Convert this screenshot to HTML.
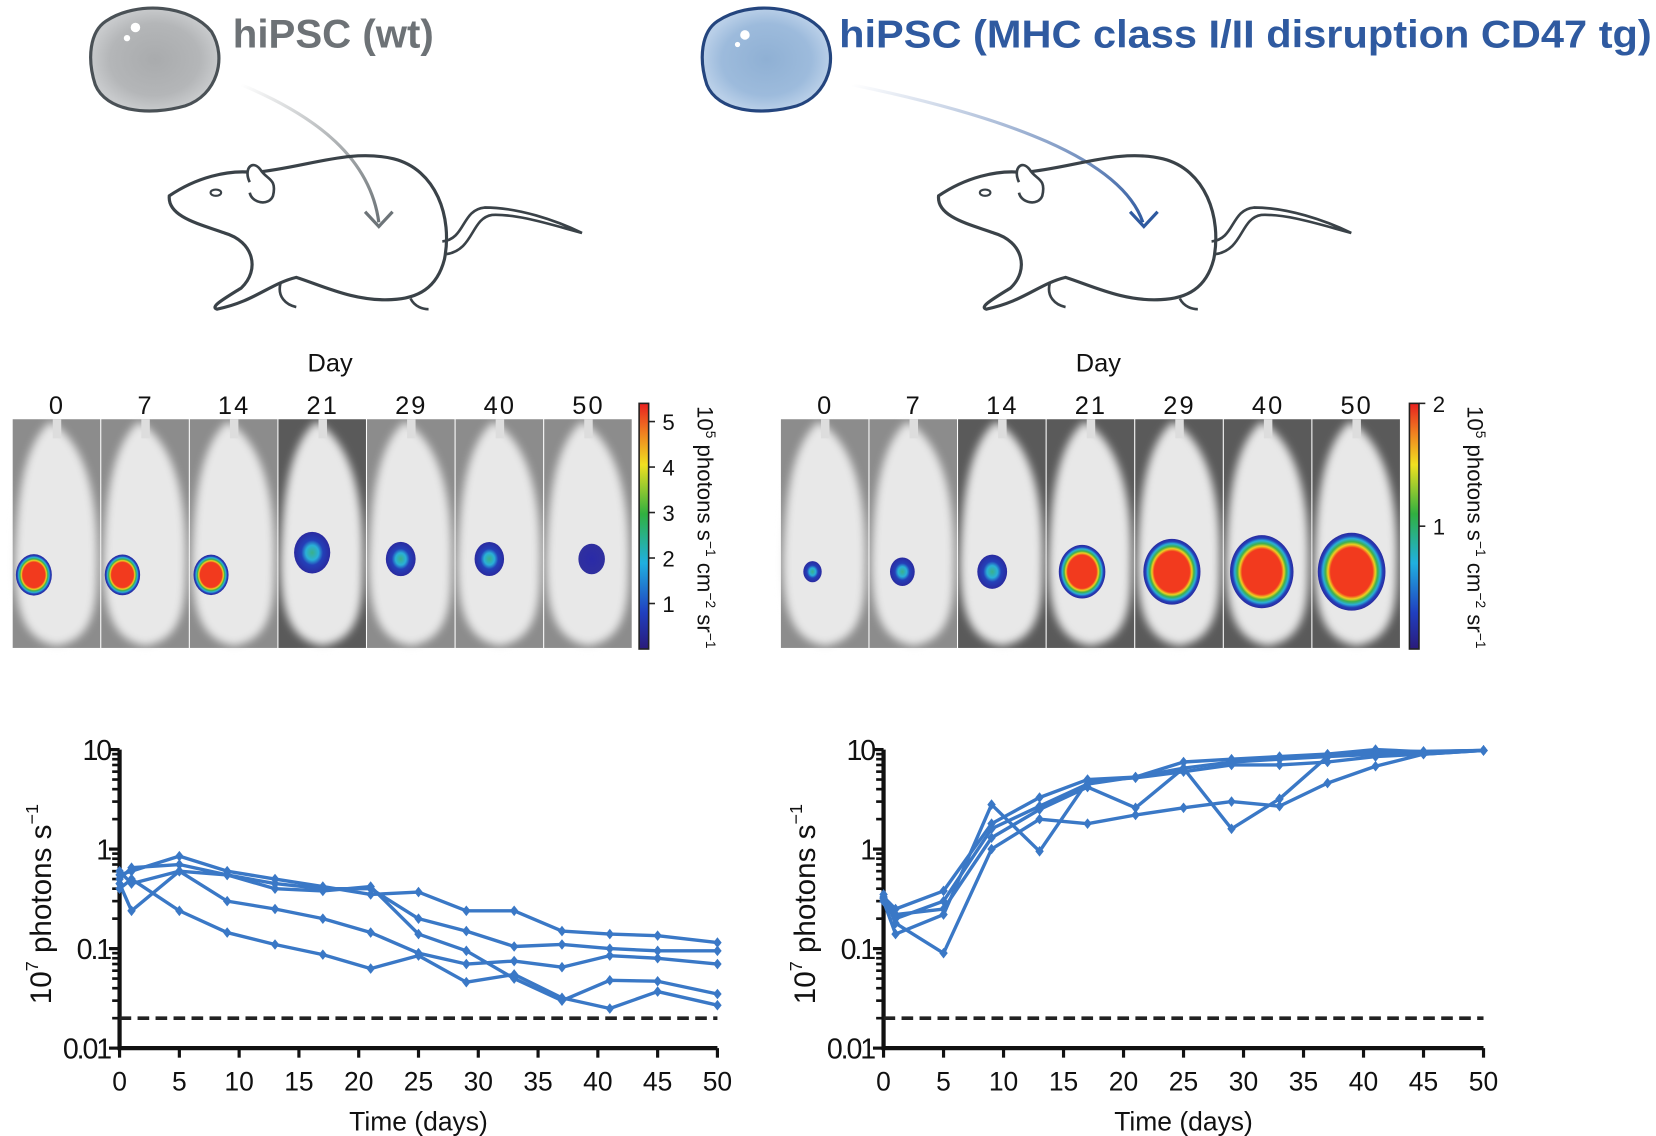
<!DOCTYPE html>
<html><head><meta charset="utf-8">
<style>
html,body{margin:0;padding:0;background:#fff;}
svg{display:block;}
text{font-family:"Liberation Sans",sans-serif;}
</style></head>
<body>
<svg id="fig" width="1656" height="1136" viewBox="0 0 1565 1073" preserveAspectRatio="none" xmlns="http://www.w3.org/2000/svg">
<defs>
<radialGradient id="cellGray" cx="0.5" cy="0.5" r="0.5"><stop offset="0" stop-color="#a9abad"/><stop offset="0.7" stop-color="#b4b6b8"/><stop offset="1" stop-color="#c8cacc"/></radialGradient>
<radialGradient id="cellBlue" cx="0.5" cy="0.5" r="0.5"><stop offset="0" stop-color="#8fb0d4"/><stop offset="0.7" stop-color="#9dbbdc"/><stop offset="1" stop-color="#b9cfe8"/></radialGradient>
<linearGradient id="arrGray" x1="0" y1="0" x2="1" y2="1"><stop offset="0" stop-color="#fff"/><stop offset="1" stop-color="#6d7478"/></linearGradient>
<linearGradient id="arrBlue" x1="0" y1="0" x2="1" y2="1"><stop offset="0" stop-color="#fff"/><stop offset="1" stop-color="#2f5aa0"/></linearGradient>
<radialGradient id="blob" cx="0.5" cy="0.5" r="0.5"><stop offset="0" stop-color="#f23a1e"/><stop offset="0.62" stop-color="#f23a1e"/><stop offset="0.7" stop-color="#f0d020"/><stop offset="0.77" stop-color="#3fb04a"/><stop offset="0.85" stop-color="#2ab0d8"/><stop offset="0.92" stop-color="#2440b8"/><stop offset="1" stop-color="#2a2aa0"/></radialGradient>
<radialGradient id="blobBlue" cx="0.5" cy="0.5" r="0.5"><stop offset="0" stop-color="#3ab08a"/><stop offset="0.35" stop-color="#2ab0d8"/><stop offset="0.6" stop-color="#2440b8"/><stop offset="1" stop-color="#2a2aa0"/></radialGradient>
<radialGradient id="blobNavy" cx="0.5" cy="0.5" r="0.5"><stop offset="0" stop-color="#2a2aa8"/><stop offset="1" stop-color="#30309e"/></radialGradient>
<linearGradient id="cbar" x1="0" y1="1" x2="0" y2="0"><stop offset="0" stop-color="#2a1a7a"/><stop offset="0.15" stop-color="#2040c0"/><stop offset="0.35" stop-color="#20b0e0"/><stop offset="0.55" stop-color="#30b040"/><stop offset="0.75" stop-color="#f0e020"/><stop offset="0.88" stop-color="#f08020"/><stop offset="1" stop-color="#e82020"/></linearGradient>
<filter id="soft"><feGaussianBlur stdDeviation="4"/></filter>
</defs>

<g>
<path d="M100,20 C130,0 180,5 200,30 C215,55 205,90 175,100 C140,110 100,105 90,80 C82,55 85,30 100,20 Z" fill="url(#cellGray)" stroke="#4a5156" stroke-width="3"/>
<circle cx="128" cy="26" r="4.5" fill="#fff"/><circle cx="120" cy="36" r="3" fill="#fff"/>
</g>
<text x="220" y="45" font-size="38" font-weight="bold" fill="#6d7276">hiPSC (wt)</text>
<g>
<path d="M228,80 C300,110 350,150 358,210" fill="none" stroke="url(#arrGray)" stroke-width="3"/>
<path d="M345,200 L358,214 L371,200" fill="none" stroke="#6d7478" stroke-width="3"/>
</g>

<g>
<path d="M678,20 C708,0 758,5 778,30 C793,55 783,90 753,100 C718,110 678,105 668,80 C660,55 663,30 678,20 Z" fill="url(#cellBlue)" stroke="#24457e" stroke-width="3"/>
<circle cx="704" cy="33" r="4.5" fill="#fff"/><circle cx="697" cy="42" r="2.5" fill="#fff"/>
</g>
<text x="793" y="45" font-size="37" font-weight="bold" fill="#2f5aa0" textLength="768" lengthAdjust="spacingAndGlyphs">hiPSC (MHC class I/II disruption CD47 tg)</text>
<g>
<path d="M805,80 C950,110 1060,150 1080,210" fill="none" stroke="url(#arrBlue)" stroke-width="3"/>
<path d="M1068,200 L1081,214 L1094,200" fill="none" stroke="#2f5aa0" stroke-width="3"/>
</g>

<g id="mice"></g>
<g id="panels"></g>

<g id="chartL"></g>
<g id="chartR"></g>
</svg>
<script>
const NS='http://www.w3.org/2000/svg';
const svg=document.getElementById('fig');
function mk(tag,attrs,parent){const e=document.createElementNS(NS,tag);for(const k in attrs)e.setAttribute(k,attrs[k]);(parent||svg).appendChild(e);return e;}

const days=[0,1,5,9,13,17,21,25,29,33,37,41,45,50];
const xTicks=[0,5,10,15,20,25,30,35,40,45,50];
const yTickLabels=['0.01','0.1','1','10'];
const yTickValues=[0.01,0.1,1,10];
const detectionLimit=0.02;
const wtA=[0.55,0.6,0.85,0.6,0.5,0.42,0.35,0.37,0.24,0.24,0.15,0.14,0.135,0.115];
const wtB=[0.5,0.65,0.7,0.55,0.45,0.4,0.4,0.2,0.15,0.105,0.11,0.1,0.095,0.095];
const wtC=[0.45,0.24,0.6,0.55,0.4,0.38,0.42,0.14,0.095,0.05,0.03,0.048,0.047,0.035];
const wtD=[0.6,0.45,0.6,0.3,0.25,0.2,0.145,0.09,0.07,0.075,0.065,0.085,0.08,0.07];
const wtE=[0.4,0.5,0.24,0.145,0.11,0.087,0.063,0.085,0.046,0.055,0.032,0.025,0.037,0.027];
const edA=[0.33,0.25,0.38,1.8,3.3,5,5.3,7.5,8,8.5,9,10,9.5,9.8];
const edB=[0.3,0.2,0.3,1.6,2.7,4.5,5.3,6.5,7.5,8,8.5,9.5,9.6,9.8];
const edC=[0.32,0.22,0.25,1.3,2.5,4.2,2.6,6.5,1.6,3.2,8.5,9,9.5,9.8];
const edD=[0.3,0.14,0.22,2.8,0.95,4.8,5.2,6,7,7,7.5,8.5,9,9.8];
const edE=[0.35,0.18,0.09,1,2,1.8,2.2,2.6,3,2.7,4.6,6.8,9,9.8];
const imageDays=['0','7','14','21','29','40','50'];
const wtSignal=[5,4.6,4.4,2.5,2.0,1.8,0.9];
const edSignal=[0.6,0.9,1.2,2,2,2,2];
const edSizes=[11,14,16,22,27,30,32];

function drawChart(g,x0,x1,series,name){
  const yTop=708,yBot=990;
  const sx=d=>x0+(x1-x0)*d/50;
  const sy=v=>yBot-(yBot-yTop)*(Math.log10(v)+2)/3;
  for(let dec=-2;dec<1;dec++){for(let m=2;m<=9;m++){const y=sy(m*Math.pow(10,dec));const t=mk('line',{x1:x0-7,x2:x0,y1:y,y2:y,stroke:'#111','stroke-width':2.5},g);

}}
  yTickValues.forEach((v,i)=>{const y=sy(v);const t=mk('line',{x1:x0-10,x2:x0,y1:y,y2:y,stroke:'#111','stroke-width':3},g);


const tx=mk('text',{x:x0-9,y:y+10,'font-size':27,'text-anchor':'end',fill:'#111','letter-spacing':'-2'},g);tx.textContent=yTickLabels[i];

});
  xTicks.forEach(d=>{const x=sx(d);const t=mk('line',{x1:x,x2:x,y1:yBot,y2:yBot+9,stroke:'#111','stroke-width':3},g);


const tx=mk('text',{x:x,y:yBot+40,'font-size':25,'text-anchor':'middle',fill:'#111'},g);tx.textContent=d;

});
  const ax=mk('path',{d:`M${x0},${yTop} V${yBot} H${x1}`,fill:'none',stroke:'#111','stroke-width':4},g);


  const dl=mk('line',{x1:x0,x2:x1,y1:sy(detectionLimit),y2:sy(detectionLimit),stroke:'#222','stroke-width':3.5,'stroke-dasharray':'11,6'},g);


  series.forEach((s,i)=>{const pts=s.map((v,j)=>sx(days[j])+','+sy(v)).join(' ');
    const pl=mk('polyline',{points:pts,fill:'none',stroke:'#3a78c6','stroke-width':3.2,'stroke-linejoin':'round'},g);


    s.forEach((v,j)=>{const x=sx(days[j]),y=sy(v);const m=mk('path',{d:`M${x},${y-5} L${x+4},${y} L${x},${y+5} L${x-4},${y} Z`,fill:'#3a78c6'},g);

});});
  const xl=mk('text',{x:(x0+x1)/2,y:1068,'font-size':25,'text-anchor':'middle',fill:'#111'},g);xl.textContent='Time (days)';


  const yl=mk('text',{transform:`translate(${x0-65},${(yTop+yBot)/2+5}) rotate(-90)`,'font-size':28,'text-anchor':'middle',fill:'#111'},g);
  yl.innerHTML='10<tspan dy="-12" font-size="17">7</tspan><tspan dy="12"> photons  s</tspan><tspan dy="-12" font-size="17">−1</tspan>';


}
drawChart(document.getElementById('chartL'),113,678,[wtA,wtB,wtC,wtD,wtE],'wt');
drawChart(document.getElementById('chartR'),835,1402,[edA,edB,edC,edD,edE],'edited');

const mice=document.getElementById('mice');
[0,727].forEach((dx,i)=>{
  const g=mk('g',{transform:`translate(${dx},0)`},mice);


  mk('path',{d:'M160,185 C185,168 215,160 240,163 C290,158 330,140 372,150 C412,160 428,205 420,245 C413,272 395,282 370,283 C335,285 305,270 280,262 C255,268 240,285 205,292 C198,290 212,282 228,272 C246,255 240,228 212,220 C190,212 158,205 160,185 Z',fill:'none',stroke:'#3a4248','stroke-width':3},g);
  mk('path',{d:'M236,172 C230,160 238,150 246,160 C252,170 262,168 258,185 C254,195 238,192 236,182',fill:'#fff',stroke:'#3a4248','stroke-width':2.5},g);
  mk('ellipse',{cx:204,cy:182,rx:5,ry:3,fill:'none',stroke:'#3a4248','stroke-width':2},g);
  mk('path',{d:'M418,228 C440,226 436,198 458,196 C490,196 525,208 550,220 C520,212 490,202 465,203 C445,206 448,236 422,240',fill:'none',stroke:'#3a4248','stroke-width':2.5},g);
  mk('path',{d:'M265,268 C262,280 270,288 280,290 M388,282 C392,290 400,292 405,292',fill:'none',stroke:'#3a4248','stroke-width':2.5},g);
});

const panels=document.getElementById('panels');
function strip(x0,signal,side,cbMax,cbTicks,cbX){
  const w=(586)/7;
  const g=mk('g',{},panels);


  const dt=mk('text',{x:x0+300,y:351,'font-size':24,'text-anchor':'middle',fill:'#111'},g);dt.textContent='Day';


  imageDays.forEach((d,i)=>{
    const px=x0+i*w;
    const t=mk('text',{x:px+w/2,y:391,'font-size':24,'text-anchor':'middle',fill:'#111','letter-spacing':'2'},g);t.textContent=d;


    const bg=(side==='edited'&&i>=2)||(side==='wt'&&i===3)?'#5a5a5a':'#8c8c8c';
    const r=mk('rect',{x:px,y:396,width:w-1,height:216,fill:bg},g);


    mk('path',{d:`M${px+w/2-6},${398} C${px+w/2+28},${420} ${px+w-2},${470} ${px+w-4},${540} C${px+w-4},${585} ${px+w-14},${605} ${px+w/2},${610} C${px+10},${605} ${px+2},${575} ${px+2},${530} C${px+4},${470} ${px+w/2-32},${420} ${px+w/2-6},${398} Z`,fill:'#e8e8e8',filter:'url(#soft)'},g);
    mk('rect',{x:px+w/2-4,y:396,width:8,height:18,fill:'#ddd'},g);
    const v=signal[i];
    let rad,cx,cy,fill;
    if(side==='wt'){
      rad=(i<3?17:(i===3?19:(i===6?15:16)))*(0.8+0.2*v/5);
      cx=i<3?px+20:(i===6?px+w/2+3:px+w/2-10);
      cy=i<3?543:(i===3?522:528);
      fill=i<3?'url(#blob)':(i<6?'url(#blobBlue)':'url(#blobNavy)');
    } else {
      rad=edSizes[i]*(0.7+0.3*v/2);
      cx=px+w/2-12+i*1.2; cy=540;
      fill=i<3?'url(#blobBlue)':'url(#blob)';
    }
    const b=mk('ellipse',{cx:cx,cy:cy,rx:rad,ry:rad*1.15,fill:fill},g);


  });
  const cb=mk('rect',{x:cbX,y:381,width:9,height:232,fill:'url(#cbar)',stroke:'#222','stroke-width':1.5},g);


  cbTicks.forEach(t=>{const y=613-232*t/cbMax;
    mk('line',{x1:cbX+9,x2:cbX+15,y1:y,y2:y,stroke:'#222','stroke-width':1.5},g);
    const tx=mk('text',{x:cbX+22,y:y+8,'font-size':21,fill:'#111'},g);tx.textContent=t;

});
  const cl=mk('text',{transform:`translate(${cbX+55},${498}) rotate(90)`,'font-size':21,'text-anchor':'middle',fill:'#111'},g);
  cl.innerHTML='10<tspan dy="-8" font-size="13">5</tspan><tspan dy="8"> photons s</tspan><tspan dy="-8" font-size="13">−1</tspan><tspan dy="8"> cm</tspan><tspan dy="-8" font-size="13">−2</tspan><tspan dy="8"> sr</tspan><tspan dy="-8" font-size="13">−1</tspan>';


}
strip(12,wtSignal,'wt',5.4,[1,2,3,4,5],604);
strip(738,edSignal,'edited',2,[1,2],1332);
</script>
</body></html>
